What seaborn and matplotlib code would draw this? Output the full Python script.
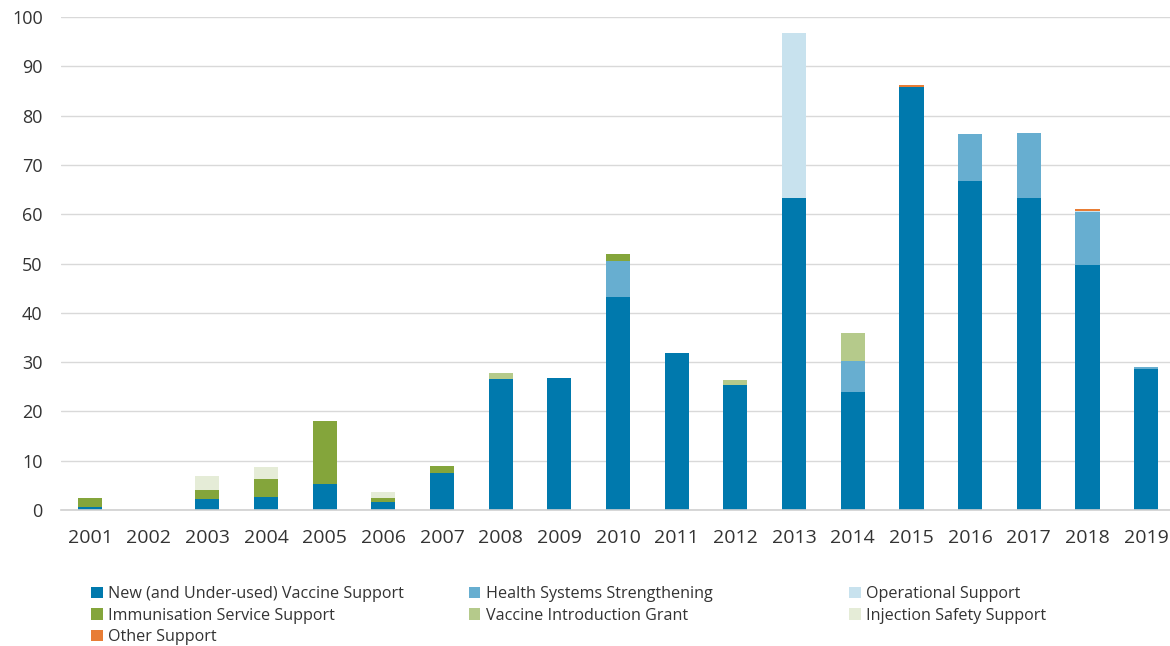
import numpy as np
import pandas as pd
import matplotlib
matplotlib.use("Agg")
import matplotlib.pyplot as plt
import seaborn as sns

years = [str(y) for y in range(2001, 2020)]

# Disbursements by support type (US$ millions)
nvs = [0.7, 0.0, 2.3, 2.7, 5.2, 1.7, 7.6, 26.5, 26.8, 43.3, 31.8, 25.3, 63.3, 23.9, 85.9, 66.8, 63.2, 49.6, 28.6]
hss = [0.0, 0.0, 0.0, 0.0, 0.0, 0.0, 0.0, 0.0, 0.0, 7.3, 0.0, 0.0, 0.0, 6.4, 0.0, 9.5, 13.3, 10.8, 0.4]
ops = [0.0, 0.0, 0.0, 0.0, 0.0, 0.0, 0.0, 0.0, 0.0, 0.0, 0.0, 0.0, 33.5, 0.0, 0.0, 0.0, 0.0, 0.3, 0.0]
iss = [1.7, 0.0, 1.7, 3.6, 12.8, 0.7, 1.3, 0.0, 0.0, 1.3, 0.0, 0.0, 0.0, 0.0, 0.0, 0.0, 0.0, 0.0, 0.0]
vig = [0.0, 0.0, 0.0, 0.0, 0.0, 0.0, 0.0, 1.2, 0.0, 0.0, 0.0, 1.1, 0.0, 5.7, 0.0, 0.0, 0.0, 0.0, 0.0]
ins = [0.0, 0.0, 2.9, 2.5, 0.0, 1.2, 0.0, 0.0, 0.0, 0.0, 0.0, 0.0, 0.0, 0.0, 0.0, 0.0, 0.0, 0.0, 0.0]
other = [0.0, 0.0, 0.0, 0.0, 0.0, 0.0, 0.0, 0.0, 0.0, 0.0, 0.0, 0.0, 0.0, 0.0, 0.4, 0.0, 0.0, 0.4, 0.0]

series = [
    ("New (and Under-used) Vaccine Support", nvs, "#0079AD"),
    ("Health Systems Strengthening", hss, "#67AED0"),
    ("Operational Support", ops, "#C8E2EE"),
    ("Immunisation Service Support", iss, "#84A53B"),
    ("Vaccine Introduction Grant", vig, "#B5CA8B"),
    ("Injection Safety Support", ins, "#E5ECD7"),
    ("Other Support", other, "#E87D35"),
]

sns.set_theme(style="white")
plt.rcParams["font.family"] = ["Open Sans", "DejaVu Sans"]

fig = plt.figure(figsize=(11.7, 6.46), dpi=100)
ax = fig.add_axes([0.0519, 0.2105, 0.9528, 0.7632])

bottom = np.zeros(len(years))
for name, vals, col in series:
    df = pd.DataFrame({"year": years, "value": vals})
    sns.barplot(data=df, x="year", y="value", bottom=bottom, color=col,
                width=0.41, errorbar=None, label=name, linewidth=0,
                saturation=1, ax=ax)
    bottom = bottom + np.array(vals)

ax.set_ylim(0, 100)
ax.set_xlim(-0.5, len(years) - 0.5)
ax.set_yticks(range(0, 101, 10))
ax.yaxis.grid(True, color="#D9D9D9", linewidth=1)
ax.set_axisbelow(True)
for s in ["top", "right", "left"]:
    ax.spines[s].set_visible(False)
ax.spines["bottom"].set_color("#D0D0D0")
ax.spines["bottom"].set_linewidth(1.2)
ax.set_xlabel("")
ax.set_ylabel("")
ax.tick_params(axis="y", length=0, pad=13, labelsize=13, labelcolor="#333333")
ax.tick_params(axis="x", length=0, pad=14, labelsize=14, labelcolor="#333333")

handles, labels = ax.get_legend_handles_labels()
if ax.get_legend() is not None:
    ax.get_legend().remove()
lookup = dict(zip(labels, handles))

columns = [
    (0.078, ["New (and Under-used) Vaccine Support", "Immunisation Service Support", "Other Support"]),
    (0.401, ["Health Systems Strengthening", "Vaccine Introduction Grant"]),
    (0.726, ["Operational Support", "Injection Safety Support"]),
]
for x0, names in columns:
    fig.legend([lookup[n] for n in names], names, loc="upper left",
               bbox_to_anchor=(x0, 0.093), bbox_transform=fig.transFigure,
               frameon=False, fontsize=11.6, handlelength=0.7, handleheight=0.7,
               handletextpad=0.35, labelspacing=0.35, borderpad=0,
               borderaxespad=0, labelcolor="#333333")

fig.savefig("out.png", dpi=100)
